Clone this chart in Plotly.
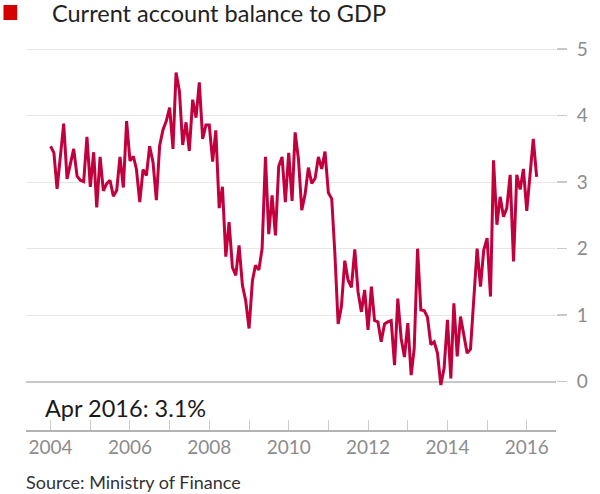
import pandas as pd
import plotly.graph_objects as go

# Monthly current account balance to GDP (%), Jan 2004 - Apr 2016
start_month = "2004-01-01"
values = [
    3.54, 3.44, 2.90, 3.45, 3.88, 3.05, 3.29, 3.50, 3.09, 3.03, 3.01, 3.68,   # 2004
    2.93, 3.45, 2.62, 3.38, 2.87, 2.98, 3.03, 2.79, 2.88, 3.38, 2.92, 3.92,   # 2005
    3.32, 3.39, 3.20, 2.70, 3.19, 3.10, 3.54, 3.30, 2.73, 3.55, 3.79, 3.92,   # 2006
    4.12, 3.50, 4.65, 4.37, 3.56, 3.90, 3.47, 4.24, 3.97, 4.50, 3.65, 3.86,   # 2007
    3.86, 3.31, 3.78, 2.61, 2.93, 1.88, 2.40, 1.72, 1.60, 2.05, 1.45, 1.22,   # 2008
    0.80, 1.52, 1.75, 1.68, 2.00, 3.38, 2.22, 2.80, 2.20, 3.24, 3.38, 2.70,   # 2009
    3.44, 2.72, 3.75, 3.34, 2.58, 2.82, 3.22, 2.98, 3.06, 3.38, 3.20, 3.46,   # 2010
    2.84, 2.75, 1.95, 0.87, 1.13, 1.82, 1.53, 1.42, 1.99, 1.35, 1.05, 1.38,   # 2011
    0.78, 1.43, 0.92, 0.90, 0.60, 0.87, 0.90, 0.92, 0.25, 1.25, 0.65, 0.37,   # 2012
    0.88, 0.10, 0.50, 2.00, 1.08, 1.07, 0.97, 0.56, 0.60, 0.43, -0.05, 0.20,  # 2013
    0.93, 0.05, 1.18, 0.38, 0.98, 0.70, 0.43, 0.49, 1.30, 2.00, 1.43, 1.98,   # 2014
    2.16, 1.28, 3.33, 2.36, 2.78, 2.48, 2.61, 3.11, 1.81, 3.11, 2.89, 3.20,   # 2015
    2.57, 3.19, 3.65, 3.08,                                                   # 2016
]
dates = pd.date_range(start_month, periods=len(values), freq="MS")

series_name = "Current account balance to GDP"
latest_label = "Apr 2016: 3.1%"
source_text = "Source: Ministry of Finance"
y_ticks = [0, 1, 2, 3, 4, 5]

FONT = "Lato"
LINE_COLOR = "#c2003d"

fig = go.Figure()
fig.add_trace(go.Scatter(
    x=dates, y=values, mode="lines",
    line=dict(color=LINE_COLOR, width=3),
    name=series_name, showlegend=False, hoverinfo="skip",
))

# legend-like square + title
fig.add_shape(type="rect", xref="paper", yref="paper",
              x0=-0.0425, x1=-0.0166, y0=1.0513, y1=1.0897,
              fillcolor="#d40000", line=dict(width=0))
fig.add_annotation(xref="paper", yref="paper", x=(51 - 26) / 541, y=(430 - 12.5) / 390,
                   text=series_name, showarrow=False, xanchor="left", yanchor="middle",
                   font=dict(family=FONT, size=23.5, color="#222222"))
fig.add_annotation(xref="paper", yref="y", x=(43 - 26) / 541, y=-0.39,
                   text=latest_label, showarrow=False, xanchor="left", yanchor="middle",
                   font=dict(family=FONT, size=23.5, color="#1a1a1a"))
fig.add_annotation(xref="paper", yref="paper", x=-0.003, y=(430 - 481.5) / 390,
                   text=source_text, showarrow=False, xanchor="left", yanchor="middle",
                   font=dict(family=FONT, size=18, color="#333333"))

fig.update_xaxes(
    type="date",
    range=["2003-05-20", "2016-09-26"],
    tick0="2004-01-01", dtick="M24", tickformat="%Y",
    ticks="inside", ticklen=10, tickcolor="#cccccc", tickwidth=1,
    minor=dict(dtick="M12", tick0="2004-01-01", ticks="inside", ticklen=10,
               tickcolor="#cccccc", tickwidth=1, showgrid=False),
    showgrid=False, zeroline=False,
    showline=True, linecolor="#b3b3b3", linewidth=1.5,
    tickfont=dict(family=FONT, size=19, color="#8c8c8c"),
)
fig.update_yaxes(
    side="right",
    range=[-0.726, 5.138],
    tickvals=y_ticks,
    ticks="outside", ticklen=10, tickcolor="#c8c8c8", tickwidth=1.5,
    showgrid=True, gridcolor="#e6e6e6", gridwidth=1,
    zeroline=True, zerolinecolor="#c8c8c8", zerolinewidth=2,
    showline=False,
    ticklabelstandoff=6,
    tickfont=dict(family=FONT, size=19, color="#8c8c8c"),
)
fig.update_layout(
    width=600, height=494,
    margin=dict(l=26, r=33, t=40, b=64),
    paper_bgcolor="white", plot_bgcolor="white",
    font=dict(family=FONT),
    hovermode=False,
)
fig.write_html("out.html", config={"displayModeBar": False, "staticPlot": True},
               post_script="document.body.style.margin='0';document.body.style.overflow='hidden';")
